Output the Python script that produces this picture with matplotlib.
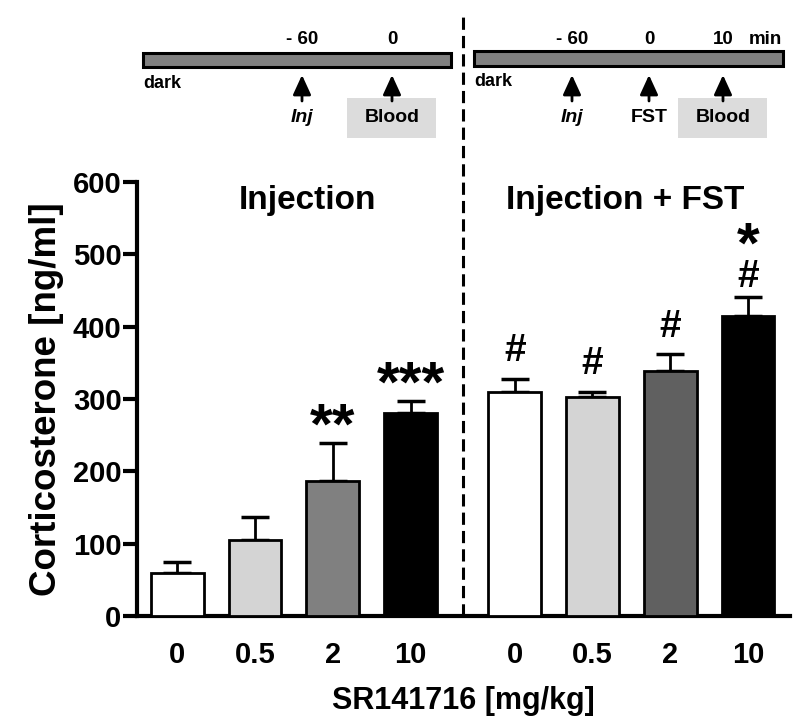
import numpy as np
import matplotlib
matplotlib.use('Agg')
import matplotlib.pyplot as plt
from matplotlib.patches import Rectangle
import matplotlib.transforms as mtransforms

plt.rcParams['font.family'] = ['Liberation Sans', 'DejaVu Sans']
plt.rcParams['font.weight'] = 'bold'

# --- Data ---
dose_labels = ['0', '0.5', '2', '10', '0', '0.5', '2', '10']
inj_mean = [60, 105, 187, 280]
inj_err = [14, 32, 52, 17]
fst_mean = [310, 303, 339, 415]
fst_err = [18, 7, 23, 26]
inj_colors = ['#ffffff', '#d4d4d4', '#808080', '#000000']
fst_colors = ['#ffffff', '#d4d4d4', '#606060', '#000000']
inj_marks = ['', '', '**', '***']
fst_marks = ['#', '#', '#', '#']

group_gap = 1.34
x_inj = np.arange(4)
x_fst = np.arange(4) + 3 + group_gap
xs = np.concatenate([x_inj, x_fst])
means = inj_mean + fst_mean
errs = inj_err + fst_err
colors = inj_colors + fst_colors

fig = plt.figure(figsize=(8, 7.27), dpi=100)
ax = fig.add_axes([0.171, 0.1527, 0.8165, 0.597])

ax.errorbar(xs, means, yerr=[np.zeros(len(errs)), errs], fmt='none',
            ecolor='black', elinewidth=2, capsize=10, capthick=2.5, zorder=2)
ax.bar(xs, means, width=0.68, color=colors, edgecolor='black',
       linewidth=2, zorder=3)

ax.set_xlim(-0.52, 7.88)
ax.set_ylim(0, 600)
ax.set_yticks(range(0, 601, 100))
ax.set_xticks(xs)
ax.set_xticklabels(dose_labels)
ax.tick_params(axis='y', length=10, width=3, labelsize=21, pad=1)
ax.tick_params(axis='x', length=0, labelsize=21, pad=18)
for lab in ax.get_xticklabels() + ax.get_yticklabels():
    lab.set_fontweight('bold')
for s in ['top', 'right']:
    ax.spines[s].set_visible(False)
for s in ['left', 'bottom']:
    ax.spines[s].set_linewidth(3)

ax.set_ylabel('Corticosterone [ng/ml]', fontsize=26.5, fontweight='bold', labelpad=6)
ax.set_xlabel('SR141716 [mg/kg]', fontsize=22, fontweight='bold', labelpad=12)

# group titles
ax.text(1.67, 575, 'Injection', fontsize=24, fontweight='bold', ha='center', va='center')
ax.text(5.76, 575, 'Injection + FST', fontsize=24, fontweight='bold', ha='center', va='center')

# significance marks
for x, m, e, mk in zip(x_inj, inj_mean, inj_err, inj_marks):
    if mk:
        ax.text(x, m + e + 20, mk, fontsize=42, ha='center', va='center')
for i, (x, m, e, mk) in enumerate(zip(x_fst, fst_mean, fst_err, fst_marks)):
    gap = 28 if i == 3 else 38
    ax.text(x, m + e + gap, mk, fontsize=28, ha='center', va='center')
ax.text(x_fst[-1], fst_mean[-1] + fst_err[-1] + 68, '*', fontsize=42, ha='center', va='center')

# dashed separator
trans = mtransforms.blended_transform_factory(ax.transData, ax.transAxes)
sep_x = 3 + group_gap / 2
ax.plot([sep_x, sep_x], [0, 1.395], transform=trans, color='black', lw=2.2,
        dashes=(4, 2), clip_on=False, zorder=1)

# --- timeline schematic (pixel coordinates) ---
tl = fig.add_axes([0, 0, 1, 1], zorder=-1)
tl.set_xlim(0, 800)
tl.set_ylim(727, 0)
tl.axis('off')

def timeline(x0, x1, y0, y1, ticks, arrows, blood):
    tl.add_patch(Rectangle((x0, y0), x1 - x0, y1 - y0, facecolor='#808080',
                           edgecolor='black', lw=2.2))
    tl.add_patch(Rectangle((blood[0], 98), blood[1] - blood[0], 40,
                           facecolor='#dcdcdc', edgecolor='none'))
    tl.text(x0, y1 + 16, 'dark', fontsize=13, ha='left', va='center')
    for tx, lab in ticks:
        tl.text(tx, 40, lab, fontsize=13.5, ha='center', va='center')
    for axx, lab, style in arrows:
        tl.annotate('', xy=(axx, 75), xytext=(axx, 101),
                    arrowprops=dict(arrowstyle='-|>,head_length=1.2,head_width=0.55',
                                    color='black', lw=2, shrinkA=0, shrinkB=0))
        tl.text(axx, 118, lab, fontsize=14, ha='center', va='center', style=style)

timeline(143, 451, 53, 67,
         [(302, '- 60'), (392, '0')],
         [(302, 'Inj', 'italic'), (392, 'Blood', 'normal')],
         (347, 436))
timeline(474, 783, 51, 66,
         [(572, '- 60'), (649, '0'), (723, '10'), (765, 'min')],
         [(572, 'Inj', 'italic'), (649, 'FST', 'normal'), (723, 'Blood', 'normal')],
         (678, 767))

fig.savefig('out.png', dpi=100)
